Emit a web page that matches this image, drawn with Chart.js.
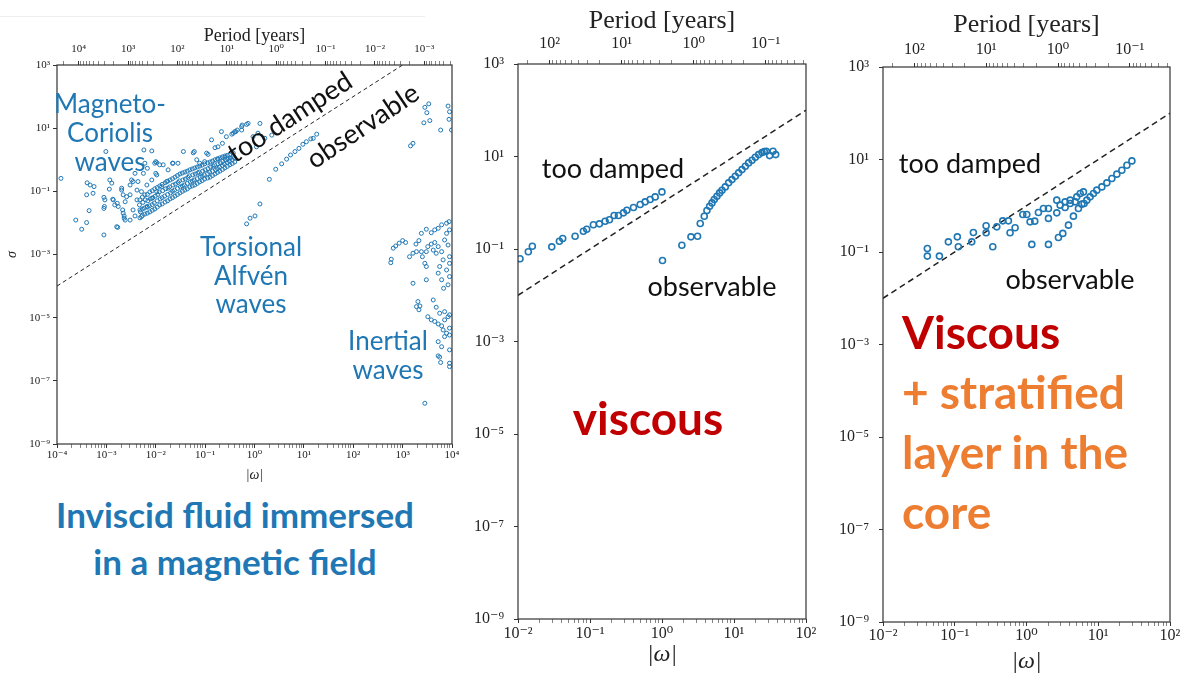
<!DOCTYPE html>
<html>
<head>
<meta charset="utf-8">
<script src="https://cdn.jsdelivr.net/npm/chart.js@4.4.0/dist/chart.umd.min.js"></script>
<style>
  body { margin: 0; width: 1182px; height: 678px; background: #fff; position: relative; overflow: hidden; font-family: Lato, "Noto Sans", sans-serif; }
  .panel { position: absolute; }
  .note { position: absolute; transform: translate(-50%, -50%); white-space: nowrap; text-align: center; }
  .blue { color: #1f77b4; }
  .black { color: #111; }
  .topline { position: absolute; left: 0; top: 16px; width: 425px; height: 1px; background: #eeeeee; }
</style>
</head>
<body>
<div class="topline"></div>
<div class="panel" style="left:0;top:0;width:470px;height:490px"><canvas id="inviscid"></canvas></div>
<div class="panel" style="left:460px;top:0;width:360px;height:678px"><canvas id="viscous"></canvas></div>
<div class="panel" style="left:830px;top:0;width:352px;height:678px"><canvas id="stratified"></canvas></div>

<!-- left panel notes -->
<div class="note blue" style="left:110px;top:132px;font-size:26px;line-height:29px">Magneto-<br>Coriolis<br>waves</div>
<div class="note blue" style="left:251px;top:275px;font-size:26px;line-height:28.5px">Torsional<br>Alfvén<br>waves</div>
<div class="note blue" style="left:388px;top:355px;font-size:26px;line-height:29px">Inertial<br>waves</div>
<div class="note black" style="left:289px;top:116px;font-size:27px;transform:translate(-50%,-50%) rotate(-33deg)">too damped</div>
<div class="note black" style="left:362px;top:125px;font-size:27px;transform:translate(-50%,-50%) rotate(-34deg)">observable</div>
<div class="note blue" style="left:235px;top:538px;font-size:35px;line-height:47px;font-weight:bold">Inviscid fluid immersed<br>in a magnetic field</div>

<!-- middle panel notes -->
<div class="note black" style="left:613px;top:167px;font-size:27px">too damped</div>
<div class="note black" style="left:712px;top:285px;font-size:27px">observable</div>
<div class="note" style="left:648px;top:417px;font-size:46px;font-weight:bold;color:#c00000">viscous</div>

<!-- right panel notes -->
<div class="note black" style="left:970px;top:162px;font-size:27px">too damped</div>
<div class="note black" style="left:1070px;top:278px;font-size:27px">observable</div>
<div style="position:absolute;left:902px;top:302px;font-size:46px;line-height:60px;font-weight:bold;color:#ed7d31;white-space:nowrap">
  <span style="color:#c00000">Viscous</span><br>+ stratified<br>layer in the<br>core
</div>

<script>
// all values are log10(|omega|), log10(sigma) pairs
const magnetoCoriolis = [
  [-3.92,-0.59],[-3.62,-1.91],[-3.50,-2.20],[-3.40,-1.99],[-3.39,-0.73],[-3.33,-0.80],[-3.25,-0.85],
  [-3.27,-1.06],[-3.35,-1.61],[-3.05,-2.38],[-3.03,-1.27],[-3.04,-1.48],[-2.93,-0.64],[-2.89,-0.74],
  [-2.94,-0.93],[-2.86,-1.27],[-2.78,-1.38],[-2.79,-2.12],[-2.69,-0.96],[-2.66,-1.69],[-2.64,-1.85],
  [-2.59,-1.17],[-2.52,-0.80],[-2.46,-0.69],[-3.01,0.26],[-2.24,0.31],[-2.08,0.28],[-2.02,-0.11],
  [-1.85,-0.16],[-1.65,-0.11],[-1.55,-0.11],[-1.44,0.26],[-1.22,0.26],[-0.97,0.21],[-0.87,0.63],
  [-0.67,0.89],[-0.57,0.73],[-0.43,0.84],[-0.35,0.94],[-0.26,1.05],[-0.16,1.12],[0.11,1.15],
  [0.35,0.78],[-0.74,0.41],[-0.25,1.10],[-0.13,1.15],[-0.26,0.94],[-0.38,0.89],[-0.46,0.81],
  [-0.65,0.52],[-0.80,0.38],[-0.03,0.73],[0.07,0.84],[0.21,0.68],[0.04,0.41],[-1.24,0.22],
  [-0.94,0.17],[-1.98,-0.09],[-1.66,-0.11],[-1.17,0.00],[-1.11,-0.11],[-1.01,-0.06],[-0.74,0.02],
  [-0.60,0.08],[-0.50,0.15],[-0.43,0.21],[-3.40,-1.11],[-3.05,-1.19],[-3.05,-1.54],[-2.87,-1.25],
  [-2.83,-1.43],[-2.76,-1.48],[-2.77,-2.14],[-2.69,-0.90],[-2.66,-1.11],[-2.67,-1.59],[-2.64,-1.78],
  [-2.49,-0.64],[-2.42,-0.43],[-2.36,-0.69],[-2.38,-0.96],[-2.32,-1.27],[-2.22,-0.11],[-2.17,-0.27],
  [-2.25,-0.43],[-2.00,-0.06],[-1.92,-0.16],[-2.08,-0.64],[-2.00,-0.43],[-1.75,-0.32],[-0.40,0.89],
  [-2.62,-1.91],[-2.52,-1.91],[-2.42,-1.78],[-2.32,-1.59],
  [-2.46,-1.59],[-2.38,-1.27],[-2.29,-1.01],[-2.18,-0.80],[-1.98,-0.48],[-2.29,-1.80],[-2.18,-1.48],
  [-2.08,-1.22],[-1.98,-1.01],[-1.88,-0.85],[-1.78,-0.69],[-2.62,-1.33],[-2.52,-1.11],
  // dense band
  [-2.32,-1.84],[-2.31,-1.65],[-2.33,-1.43],
  [-2.22,-1.72],[-2.23,-1.53],[-2.21,-1.27],[-2.22,-1.11],
  [-2.12,-1.65],[-2.13,-1.46],[-2.11,-1.24],[-2.12,-1.02],
  [-2.02,-1.56],[-2.03,-1.37],[-2.01,-1.15],[-2.02,-0.92],
  [-1.92,-1.43],[-1.91,-1.24],[-1.93,-1.02],[-1.92,-0.83],
  [-1.81,-1.34],[-1.82,-1.15],[-1.80,-0.92],[-1.81,-0.73],
  [-1.71,-1.24],[-1.70,-1.05],[-1.72,-0.86],[-1.71,-0.64],
  [-1.61,-1.15],[-1.62,-0.96],[-1.60,-0.77],[-1.61,-0.55],
  [-1.51,-1.05],[-1.50,-0.86],[-1.52,-0.67],[-1.51,-0.45],
  [-1.41,-0.96],[-1.42,-0.80],[-1.40,-0.61],[-1.41,-0.39],
  [-1.31,-0.86],[-1.30,-0.70],[-1.32,-0.51],[-1.31,-0.32],
  [-1.21,-0.80],[-1.22,-0.64],[-1.20,-0.45],[-1.21,-0.26],
  [-1.11,-0.70],[-1.10,-0.55],[-1.12,-0.39],[-1.11,-0.20],
  [-1.01,-0.61],[-1.02,-0.48],[-1.00,-0.32],[-1.01,-0.13],
  [-0.90,-0.55],[-0.91,-0.39],[-0.89,-0.23],[-0.90,-0.07],
  [-0.80,-0.45],[-0.79,-0.32],[-0.81,-0.16],[-0.80,0.00],
  [-0.70,-0.36],[-0.71,-0.23],[-0.69,-0.10],[-0.70,0.06],
  [-0.60,-0.26],[-0.61,-0.13],[-0.59,0.00],[-0.60,0.12],
  [-0.50,-0.16],[-0.51,-0.04],[-0.49,0.06],
  [-0.40,-0.07],[-0.41,0.06],
  [-2.27,-1.76],[-2.27,-1.56],[-2.26,-1.35],[-2.27,-1.18],
  [-2.17,-1.69],[-2.17,-1.50],[-2.16,-1.30],[-2.17,-1.10],
  [-2.07,-1.60],[-2.07,-1.42],[-2.06,-1.20],[-2.07,-0.98],
  [-1.97,-1.50],[-1.97,-1.30],[-1.96,-1.10],[-1.97,-0.88],
  [-1.87,-1.40],[-1.87,-1.20],[-1.86,-0.98],[-1.87,-0.78],
  [-1.76,-1.30],[-1.76,-1.10],[-1.75,-0.90],[-1.76,-0.68],
  [-1.66,-1.20],[-1.66,-1.00],[-1.65,-0.80],[-1.66,-0.60],
  [-1.56,-1.10],[-1.56,-0.91],[-1.55,-0.72],[-1.56,-0.50],
  [-1.46,-1.00],[-1.46,-0.83],[-1.45,-0.64],[-1.46,-0.42],
  [-1.36,-0.92],[-1.36,-0.75],[-1.35,-0.56],[-1.36,-0.36],
  [-1.26,-0.83],[-1.26,-0.67],[-1.25,-0.48],[-1.26,-0.29],
  [-1.16,-0.75],[-1.16,-0.60],[-1.15,-0.42],[-1.16,-0.23],
  [-1.06,-0.66],[-1.06,-0.52],[-1.05,-0.36],[-1.06,-0.17],
  [-0.95,-0.58],[-0.95,-0.44],[-0.94,-0.28],[-0.95,-0.10],
  [-0.85,-0.50],[-0.85,-0.36],[-0.84,-0.20],[-0.85,-0.04],
  [-0.75,-0.40],[-0.75,-0.28],[-0.74,-0.13],[-0.75,0.03],
  [-0.65,-0.31],[-0.65,-0.18],[-0.64,-0.05],[-0.65,0.09],
  [-0.55,-0.21],[-0.55,-0.09],[-0.54,0.03],[-0.55,0.14],
  [-0.45,-0.12],[-0.45,0.00],[-0.44,0.10]
];
const torsionalAlfven = [
  [-0.16,-2.03],[-0.09,-1.85],[0.01,-1.78],[0.11,-1.40],[0.30,-0.62],[0.43,-0.30],[0.55,-0.13],
  [0.65,0.02],[0.73,0.15],[0.82,0.26],[0.90,0.36],[0.98,0.49],[1.05,0.57],[1.14,0.66],[1.19,0.68],[1.26,0.81]
];
const inertial = [
  [3.53,1.77],[3.45,1.66],[3.49,1.49],[3.43,1.17],[3.55,1.24],[3.77,0.94],[3.92,1.70],[3.95,1.52],
  [3.94,1.28],[3.99,0.94],[3.16,0.44],[3.21,0.52],
  [2.81,-2.80],[2.86,-2.73],[2.93,-2.64],[3.00,-2.56],[3.06,-2.62],[2.77,-3.15],[2.76,-3.26],
  [3.14,-3.07],[3.21,-2.96],[3.27,-2.67],[3.33,-2.56],[3.38,-2.33],[3.48,-2.20],[3.58,-2.31],
  [3.65,-2.22],[3.72,-2.17],[3.79,-2.06],[3.89,-2.01],[3.94,-1.96],[3.28,-2.91],[3.38,-2.91],
  [3.40,-3.07],[3.48,-2.91],[3.51,-2.75],[3.58,-2.67],[3.65,-2.62],[3.62,-2.86],[3.72,-2.75],
  [3.68,-2.96],[3.79,-2.91],[3.85,-2.54],[3.89,-2.33],[3.95,-2.22],[3.92,-2.70],[3.95,-3.07],
  [3.82,-3.17],[3.75,-3.38],[3.89,-3.49],[3.95,-3.70],[3.72,-3.59],[3.79,-3.80],[3.83,-4.07],
  [3.92,-3.96],[3.48,-3.38],[3.45,-3.28],[3.21,-3.91],[3.48,-3.80],[3.95,-3.28],
  [3.31,-4.49],[3.35,-4.63],[3.28,-4.65],[3.33,-4.75],[3.62,-4.44],[3.68,-4.67],[3.51,-4.97],
  [3.58,-5.07],[3.65,-5.12],[3.72,-5.20],[3.79,-5.26],[3.85,-5.07],[3.92,-4.97],[3.95,-4.91],
  [3.75,-4.86],[3.85,-4.81],[3.82,-5.39],[3.89,-5.49],[3.95,-5.33],[3.85,-5.60],[3.95,-5.55],
  [3.72,-5.76],[3.79,-5.92],[3.95,-6.02],[3.72,-6.21],[3.75,-6.25],[3.77,-6.42],[3.95,-6.44],
  [3.95,-6.55],[3.45,-7.71]
];

const viscousDamped = [
  [-1.972,-1.212],[-1.857,-1.061],[-1.801,-0.940],[-1.531,-0.953],[-1.425,-0.831],[-1.379,-0.773],
  [-1.207,-0.723],[-1.092,-0.615],[-1.045,-0.572],[-0.953,-0.477],[-0.869,-0.456],[-0.790,-0.400],
  [-0.730,-0.369],[-0.665,-0.277],[-0.605,-0.277],[-0.535,-0.218],[-0.488,-0.162],[-0.396,-0.104],
  [-0.303,-0.039],[-0.234,0.019],[-0.165,0.069],[-0.095,0.127],[-0.001,0.235]
];
const viscousObservable = [
  [0.007,-1.249],[0.276,-0.918],[0.402,-0.737],[0.494,-0.723],[0.531,-0.449],[0.587,-0.291],
  [0.624,-0.168],[0.661,-0.075],[0.694,-0.003],[0.726,0.069],[0.763,0.141],[0.800,0.213],
  [0.833,0.270],[0.879,0.343],[0.925,0.430],[0.972,0.501],[1.018,0.572],[1.064,0.646],
  [1.111,0.717],[1.157,0.789],[1.203,0.862],[1.250,0.918],[1.296,0.983],[1.342,1.041],
  [1.389,1.084],[1.421,1.106],[1.449,1.113],[1.495,1.019],[1.542,1.113],[1.579,1.041]
];
const stratifiedModes = [
  [-1.382,-0.923],[-1.382,-1.089],[-1.214,-1.089],[-1.089,-0.780],[-0.964,-0.672],[-0.950,-0.888],
  [-0.763,-0.780],[-0.740,-0.577],[-0.563,-0.434],[-0.563,-0.585],[-0.414,-0.456],[-0.331,-0.326],
  [-0.252,-0.326],[-0.229,-0.585],[-0.159,-0.477],[-0.470,-0.888],[-0.052,-0.188],[0.004,-0.188],
  [0.050,-0.348],[0.115,-0.333],[0.166,-0.145],[0.236,-0.058],[0.306,-0.058],[0.306,-0.274],
  [0.422,0.121],[0.422,-0.153],[0.469,0.013],[0.538,-0.037],[0.538,0.084],[0.608,0.050],
  [0.608,0.121],[0.678,0.084],[0.701,0.192],[0.748,0.266],[0.794,0.300],[0.724,-0.058],
  [0.771,0.035],[0.841,0.121],[0.887,0.192],[0.074,-0.836],[0.306,-0.836],[0.445,-0.685],
  [0.506,-0.598],[0.585,-0.419],[0.654,-0.225],[0.803,0.050],[0.933,0.266],[0.980,0.337],
  [1.050,0.408],[1.120,0.495],[1.190,0.590],[1.259,0.683],[1.329,0.769],[1.399,0.877],[1.469,0.970]
];

// boundary sigma = |omega| (log10 end points)
const inviscidLimit = [[-4, -4], [3, 3]];
const viscousLimit = [[-2, -2], [2, 2]];

// tick values
const inviscidOmegaTicks = [1e-4, 1e-3, 1e-2, 1e-1, 1e0, 1e1, 1e2, 1e3, 1e4];
const inviscidPeriodTicks = [1e4, 1e3, 1e2, 1e1, 1e0, 1e-1, 1e-2, 1e-3];
const viscousOmegaTicks = [1e-2, 1e-1, 1e0, 1e1, 1e2];
const viscousPeriodTicks = [1e2, 1e1, 1e0, 1e-1];
const sigmaTicks = [1e3, 1e1, 1e-1, 1e-3, 1e-5, 1e-7, 1e-9];

const periodFactor = 2.75; // period [years] = periodFactor / |omega|

const C0 = '#1f77b4';
const AXIS = '#333';
const SERIF = '"Liberation Serif", "DejaVu Serif", serif';
const SUP = { '0': '⁰', '1': '¹', '2': '²', '3': '³', '4': '⁴', '5': '⁵', '6': '⁶', '7': '⁷', '8': '⁸', '9': '⁹', '-': '⁻' };

function toPoints(pairs) {
  return pairs.map(p => ({ x: Math.pow(10, p[0]), y: Math.pow(10, p[1]) }));
}

function pow10Label(v) {
  const l = Math.log10(v);
  const e = Math.round(l);
  if (Math.abs(l - e) > 1e-6) return '';
  return '10' + String(e).split('').map(c => SUP[c]).join('');
}

// majors from the list, minors at 2..9 x 10^n
function logTicks(majors, withMinor) {
  return scale => {
    const lo = Math.min(scale.min, scale.max), hi = Math.max(scale.min, scale.max);
    const out = majors.map(v => ({ value: v, major: true }));
    if (withMinor) {
      for (let e = Math.floor(Math.log10(lo)); e <= Math.ceil(Math.log10(hi)); e++) {
        for (let m = 2; m <= 9; m++) {
          const v = m * Math.pow(10, e);
          if (v > lo && v < hi) out.push({ value: v, major: false });
        }
      }
    }
    out.sort((a, b) => a.value - b.value);
    scale.ticks = out;
  };
}

const framePlugin = {
  id: 'frame',
  afterDraw(chart) {
    const { ctx, chartArea: a } = chart;
    ctx.save();
    ctx.strokeStyle = AXIS;
    ctx.lineWidth = 1.2;
    ctx.strokeRect(a.left, a.top, a.right - a.left, a.bottom - a.top);
    ctx.restore();
  }
};

function tickGrid() {
  return {
    drawOnChartArea: false, drawTicks: true, tickLength: 4,
    color: AXIS, tickColor: AXIS,
    tickWidth: c => (c.tick && c.tick.major) ? 1 : 0.6
  };
}

function makePanel(id, p) {
  const tickFont = { family: SERIF, size: p.tickSize };
  new Chart(document.getElementById(id), {
    type: 'scatter',
    data: {
      datasets: p.series.map(s => ({
        data: toPoints(s),
        pointStyle: 'circle',
        pointRadius: p.r,
        pointBorderWidth: p.bw,
        pointBorderColor: C0,
        pointBackgroundColor: 'rgba(255,255,255,0)',
        showLine: false
      })).concat([{
        data: toPoints(p.limit),
        showLine: true,
        borderColor: '#222',
        borderWidth: p.dashWidth,
        borderDash: p.dash,
        pointRadius: 0,
        fill: false
      }])
    },
    options: {
      responsive: true,
      maintainAspectRatio: false,
      animation: false,
      events: [],
      layout: { padding: p.padding },
      plugins: { legend: { display: false }, tooltip: { enabled: false } },
      scales: {
        x: {
          type: 'logarithmic', position: 'bottom', min: p.xMin, max: p.xMax,
          grid: tickGrid(), border: { display: false },
          afterBuildTicks: logTicks(p.omegaTicks, true),
          afterFit: s => { s.height = p.bottomHeight; s.paddingLeft = 0; s.paddingRight = 0; },
          ticks: { autoSkip: false, maxRotation: 0, padding: p.xPad, color: '#222', font: tickFont, callback: v => pow10Label(v) },
          title: { display: true, text: '|ω|', color: '#222', font: { family: SERIF, size: p.omegaTitleSize, style: 'italic' }, padding: { top: 0, bottom: p.omegaTitlePad } }
        },
        period: {
          axis: 'x', type: 'logarithmic', position: 'top', reverse: true,
          min: periodFactor / p.xMax, max: periodFactor / p.xMin,
          grid: tickGrid(), border: { display: false },
          afterBuildTicks: logTicks(p.periodTicks, true),
          afterFit: s => { s.height = p.topHeight; s.paddingLeft = 0; s.paddingRight = 0; },
          ticks: { autoSkip: false, maxRotation: 0, padding: p.topPad, color: '#222', font: tickFont, callback: v => pow10Label(v) },
          title: { display: true, text: 'Period [years]', color: '#222', font: { family: SERIF, size: p.periodTitleSize }, padding: { top: p.periodTitlePad, bottom: 0 } }
        },
        y: {
          type: 'logarithmic', position: 'left', min: 1e-9, max: 1e3,
          grid: tickGrid(), border: { display: false },
          afterBuildTicks: logTicks(sigmaTicks, false),
          afterFit: s => { s.width = p.yWidth; s.paddingTop = 0; s.paddingBottom = 0; },
          ticks: { autoSkip: false, padding: p.yPad, color: '#222', font: tickFont, callback: v => pow10Label(v) },
          title: { display: p.sigmaTitle, text: 'σ', color: '#222', font: { family: SERIF, size: 14, style: 'italic' }, padding: { top: 4, bottom: 0 } }
        }
      }
    },
    plugins: [framePlugin]
  });
}

makePanel('inviscid', {
  series: [magnetoCoriolis, torsionalAlfven, inertial], limit: inviscidLimit,
  xMin: 1e-4, xMax: 1e4, omegaTicks: inviscidOmegaTicks, periodTicks: inviscidPeriodTicks,
  r: 2, bw: 1, dash: [4, 3], dashWidth: 1,
  padding: { left: 0, right: 18, top: 5, bottom: 0 },
  yWidth: 57, topHeight: 60, bottomHeight: 46,
  tickSize: 11, xPad: 1, topPad: 5, yPad: 3,
  omegaTitleSize: 14, omegaTitlePad: 6, periodTitleSize: 18, periodTitlePad: 20, sigmaTitle: true
});

makePanel('viscous', {
  series: [viscousDamped, viscousObservable], limit: viscousLimit,
  xMin: 1e-2, xMax: 1e2, omegaTicks: viscousOmegaTicks, periodTicks: viscousPeriodTicks,
  r: 3, bw: 1.6, dash: [6, 4], dashWidth: 1.5,
  padding: { left: 0, right: 14, top: 0, bottom: 0 },
  yWidth: 58, topHeight: 64, bottomHeight: 59,
  tickSize: 16, xPad: 1, topPad: 7, yPad: 10,
  omegaTitleSize: 24, omegaTitlePad: 9, periodTitleSize: 26, periodTitlePad: 6, sigmaTitle: false
});

makePanel('stratified', {
  series: [stratifiedModes], limit: viscousLimit,
  xMin: 1e-2, xMax: 1e2, omegaTicks: viscousOmegaTicks, periodTicks: viscousPeriodTicks,
  r: 3, bw: 1.6, dash: [6, 4], dashWidth: 1.5,
  padding: { left: 0, right: 12, top: 0, bottom: 0 },
  yWidth: 53, topHeight: 67, bottomHeight: 56,
  tickSize: 16, xPad: 0, topPad: 4, yPad: 10,
  omegaTitleSize: 24, omegaTitlePad: 2, periodTitleSize: 26, periodTitlePad: 10, sigmaTitle: false
});
</script>
</body>
</html>
